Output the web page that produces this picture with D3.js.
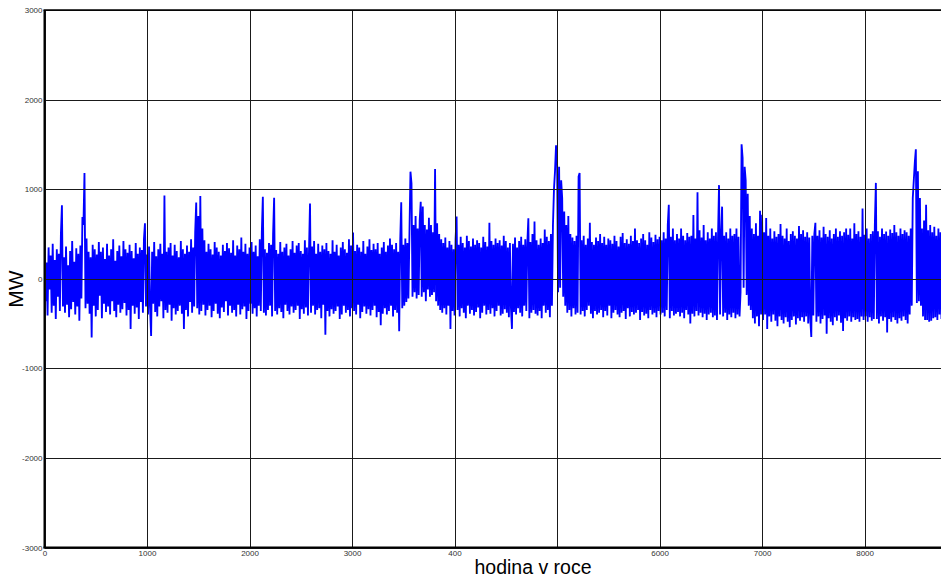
<!DOCTYPE html>
<html><head><meta charset="utf-8">
<script src="https://cdn.jsdelivr.net/npm/d3@7/dist/d3.min.js"></script>
<style>body{margin:0;background:#fff} svg{display:block}</style>
</head><body><svg id="c" width="941" height="578"></svg>
<script>
// sampling step of the series (hours)
const hourStep = 10;
// MW values, one every 10 hours (hour 0 .. 8750)
const mw = [
 300,-250,180,-410,350,-120,260,-380,390,-300,210,-450,330,-200,280,-360,500,820,-310,240,
 -380,360,-290,150,-430,310,-340,420,-260,190,-400,340,-310,280,-470,370,-220,690,600,1180,
 -330,450,-280,300,-390,240,-655,380,-300,330,-420,270,-350,410,-190,300,-440,350,-280,220,
 -370,390,-310,260,-400,330,-250,440,-360,200,-430,310,-290,370,-380,250,-340,420,-270,330,
 -410,290,-350,380,-560,310,-300,230,-390,400,-320,280,-450,350,-260,320,-380,440,620,-310,
 270,-400,360,-330,-640,300,-280,410,-370,250,-420,330,-310,390,-250,280,-440,930,-350,300,
 -380,350,-290,400,-470,260,-330,380,-400,310,-360,240,-300,420,-390,330,-560,280,-350,370,
 -420,300,-260,440,-380,350,-310,520,850,-330,700,-400,925,-360,560,-290,430,-410,300,-350,
 390,-300,330,-430,270,-360,410,-280,350,-390,300,-440,260,-320,380,-370,310,-250,400,-410,
 340,-300,290,-380,430,-350,260,-420,370,-290,330,-400,460,-340,300,-310,390,-450,280,-360,
 350,-280,410,-390,300,-330,370,-420,250,-300,440,-360,520,915,-380,330,-410,290,-350,400,
 -300,380,-420,500,905,-360,320,-400,280,-330,410,-370,300,-440,350,-290,390,-360,260,-400,
 330,-310,420,-380,290,-350,370,-300,400,-450,310,-340,280,-390,430,-320,350,-410,300,840,
 -380,360,-300,420,-400,280,-350,390,-330,300,-440,370,-290,330,-625,400,-360,310,-420,280,
 -340,430,-390,300,-360,380,-310,260,-450,350,-400,410,-300,330,-380,290,-350,440,-420,370,
 -330,515,-360,310,-400,380,-290,350,-440,300,-370,420,-310,280,-390,360,-340,440,-410,320,
 -350,390,-300,330,-430,400,-370,280,-520,350,-390,410,-330,300,-400,370,-360,450,-300,380,
 -420,330,-350,400,-380,300,-585,420,855,-330,380,-300,450,-260,400,-220,500,1195,1065,-200,
 600,-150,700,-220,560,-180,650,860,-200,805,-150,600,-250,550,-120,680,-200,600,-180,520,
 -150,1225,-250,620,-300,500,-350,440,-380,400,-330,460,-400,350,-300,420,-560,380,-360,330,
 -410,440,695,-350,380,-420,470,-330,400,-380,350,-440,480,-300,420,-390,360,-350,450,-410,
 380,-370,430,-320,400,-440,350,-380,470,-300,410,-400,360,-350,625,-390,420,-330,380,-420,
 450,-360,400,-300,430,-410,370,-390,480,-340,420,-380,350,-430,400,-320,-560,390,-370,460,
 -400,350,-330,420,-380,470,-420,380,-300,440,-360,400,675,-440,410,-380,500,-350,640,-390,
 430,-410,380,-360,450,-440,400,-300,550,-380,470,-350,420,-430,500,-300,600,1000,1200,1490,
 1350,-150,1250,-100,1100,900,-200,750,-300,600,-380,700,-350,500,-420,460,-330,420,-400,480,
 -380,1140,1180,-400,430,-360,480,-420,380,-350,450,-300,625,-390,410,-440,380,-360,460,-400,
 420,-380,500,-350,400,-430,470,-360,380,-410,450,-300,430,-440,390,-380,480,-350,420,-400,
 360,-430,470,-380,510,-360,400,-450,440,-330,390,-420,480,-370,420,-400,560,-380,430,-350,
 400,-460,450,-370,500,-410,430,-390,380,-440,520,-350,460,-400,410,-380,490,-430,440,-360,
 470,-400,430,-380,520,-420,450,-350,600,825,-440,470,-360,560,-410,430,-390,500,-370,450,
 -420,560,-380,480,-440,430,-350,510,-400,470,-500,480,-390,712,-420,450,-360,965,-410,540,
 -380,460,-430,600,-390,430,-460,520,-400,450,-380,560,-430,480,-410,520,-460,450,1045,-400,
 500,805,-420,480,-380,520,-460,450,-400,560,-430,480,-380,500,-440,560,-400,470,-420,-150,
 1500,1350,-100,1250,1100,-180,950,-300,700,-350,560,-440,500,-500,620,-420,480,-530,760,-400,
 713,-460,520,-400,679,-560,480,-420,560,-480,450,-400,530,-470,470,-530,500,-420,610,-460,
 480,-500,450,-430,560,-480,420,-540,500,-460,530,-420,480,-510,450,-440,590,-470,500,-430,
 540,-480,470,-420,520,-500,460,-450,-650,480,-410,500,625,-480,480,-420,540,-500,460,-450,
 580,-410,500,-615,470,-440,540,-480,450,-520,500,-430,560,-470,470,-410,530,-490,480,-583,
 520,-440,560,-470,490,-420,560,-480,450,-430,620,-460,500,-450,530,-480,470,-420,785,-460,
 490,-420,560,-480,450,-430,500,-470,530,-450,600,1070,-450,530,-500,470,-420,560,-470,500,
 -430,527,-600,480,-450,550,-480,510,-430,600,-460,520,-500,480,-440,560,-470,500,-420,540,
 -460,520,-500,480,-400,560,-300,900,1100,1300,1445,-270,1200,-250,900,-300,560,-420,650,-460,
 825,-460,540,-480,600,-470,520,-440,580,-430,480,-460,560,-400,520,-450
];
const hours = mw.map((_, i) => i * hourStep);

const xDomain = [0, 8760];
const yDomain = [-3000, 3000];
const xTicks = [0, 1000, 2000, 3000, 4000, 5000, 6000, 7000, 8000];
const xTickLabels = ["0", "1000", "2000", "3000", "400", "", "6000", "7000", "8000"];
const yTicks = [-3000, -2000, -1000, 0, 1000, 2000, 3000];
const yTickLabels = ["-3000", "-2000", "-1000", "0", "1000", "2000", "3000"];
const xTitle = "hodina v roce";
const yTitle = "MW";

const svg = d3.select("#c");
svg.append("rect").attr("width", 941).attr("height", 578).attr("fill", "#fff");

const L = 44.5, R = 942.5, T = 10, B = 547.5;
const x = d3.scaleLinear().domain(xDomain).range([L, R]);
const y = d3.scaleLinear().domain(yDomain).range([B, T]);

svg.append("clipPath").attr("id", "clip")
  .append("rect").attr("x", L).attr("y", T).attr("width", R - L).attr("height", B - T);

// data line
svg.append("path")
  .datum(hours.map((h, i) => [h, mw[i]]))
  .attr("clip-path", "url(#clip)")
  .attr("fill", "none")
  .attr("stroke", "#0000ff")
  .attr("stroke-width", 1.85)
  .attr("stroke-linejoin", "bevel")
  .attr("d", d3.line().x(d => x(d[0])).y(d => y(d[1])));

// grid + axes
const gx = svg.append("g").attr("transform", `translate(0,${B})`)
  .call(d3.axisBottom(x).tickValues(xTicks)
    .tickFormat((d, i) => xTickLabels[i]).tickSize(-(B - T)).tickPadding(3));
gx.select(".domain").remove();
gx.selectAll(".tick line").attr("stroke", "#1a1a1a").attr("stroke-width", 1)
  .attr("shape-rendering", "crispEdges");
gx.selectAll(".tick text").attr("font-family", "Arial, 'Liberation Sans', sans-serif")
  .attr("font-size", 8).attr("fill", "#333");

const gy = svg.append("g").attr("transform", `translate(${L},0)`)
  .call(d3.axisLeft(y).tickValues(yTicks)
    .tickFormat((d, i) => yTickLabels[i]).tickSize(-(R - L)).tickPadding(2));
gy.select(".domain").remove();
gy.selectAll(".tick line").attr("stroke", "#1a1a1a").attr("stroke-width", 1)
  .attr("shape-rendering", "crispEdges");
gy.selectAll(".tick text").attr("font-family", "Arial, 'Liberation Sans', sans-serif")
  .attr("font-size", 8).attr("fill", "#333");

// frame
svg.append("line").attr("x1", L).attr("x2", L).attr("y1", T).attr("y2", B + 1)
  .attr("stroke", "#000").attr("stroke-width", 2);
svg.append("line").attr("x1", L - 1).attr("x2", 941).attr("y1", B).attr("y2", B)
  .attr("stroke", "#000").attr("stroke-width", 2);
svg.append("line").attr("x1", L - 1).attr("x2", 941).attr("y1", T).attr("y2", T)
  .attr("stroke", "#000").attr("stroke-width", 1.5);

// titles
svg.append("text").attr("x", 533).attr("y", 574).attr("text-anchor", "middle")
  .attr("font-family", "Arial, 'Liberation Sans', sans-serif").attr("font-size", 19.5)
  .attr("fill", "#000").text(xTitle);
svg.append("text").attr("transform", "translate(23,289) rotate(-90)")
  .attr("text-anchor", "middle")
  .attr("font-family", "Arial, 'Liberation Sans', sans-serif").attr("font-size", 21)
  .attr("fill", "#000").text(yTitle);
</script></body></html>
